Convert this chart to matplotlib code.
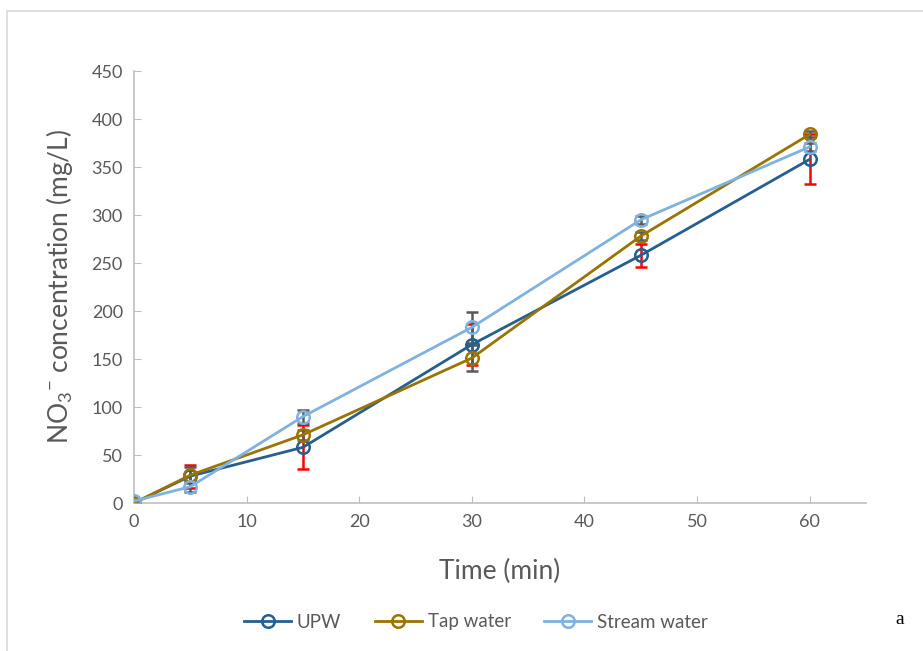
import numpy as np
import matplotlib.pyplot as plt
from matplotlib.patches import Rectangle

time = [0, 5, 15, 30, 45, 60]

upw = [0, 28, 58, 165, 258, 358]
tap = [0, 29, 71, 151, 278, 384]
stream = [2, 17, 90, 183, 295, 371]

upw_err = [0, 12, 23, 21, 12, 26]
tap_err = [1, 8, 5, 14, 4, 3]
stream_err = [1, 6, 7, 16, 4, 4]

labels = ['UPW', 'Tap water', 'Stream water']
colors = ['#255e91', '#9a7400', '#7fb2e0']
err_colors = ['#ff0000', '#595959', '#595959']

plt.rcParams['font.family'] = ['Lato', 'DejaVu Sans']
plt.rcParams['mathtext.fontset'] = 'custom'
plt.rcParams['mathtext.rm'] = 'Lato'

fig = plt.figure(figsize=(9.23, 6.51), dpi=100)
fig.patches.append(Rectangle((7 / 923, -0.1), 1.2, (651 - 11) / 651 + 0.1,
                             transform=fig.transFigure, fill=False,
                             edgecolor='#d9d9d9', linewidth=1.2))
ax = fig.add_axes([134 / 923, 1 - 503 / 651, (866 - 134) / 923, (503 - 71) / 651])

series = [upw, tap, stream]
errs = [upw_err, tap_err, stream_err]
handles = []
for y, e, c, ec, lab in zip(series, errs, colors, err_colors, labels):
    ax.errorbar(time, y, yerr=e, fmt='none', ecolor=ec, elinewidth=1.8,
                capsize=4.5, capthick=1.8, zorder=2)
    h, = ax.plot(time, y, color=c, lw=2, marker='o', markersize=9,
                 markerfacecolor='none', markeredgewidth=1.8, label=lab, zorder=3)
    handles.append(h)

ax.set_xlim(0, 65)
ax.set_ylim(0, 450)
ax.set_xticks(range(0, 61, 10))
ax.set_yticks(range(0, 451, 50))
for s in ['top', 'right']:
    ax.spines[s].set_visible(False)
for s in ['left', 'bottom']:
    ax.spines[s].set_color('#bfbfbf')
    ax.spines[s].set_linewidth(1.2)
ax.tick_params(direction='in', length=5, color='#bfbfbf', labelcolor='#595959',
               labelsize=13, pad=8)

ax.set_xlabel('Time (min)', fontsize=19, color='#595959', labelpad=21)
ax.set_ylabel(r'NO$_3$$^{-}$ concentration (mg/L)', fontsize=19, color='#595959', labelpad=12)

fig.legend(handles=handles, loc='center', bbox_to_anchor=(476 / 923, 1 - 622 / 651),
           ncol=3, frameon=False, fontsize=13.5, labelcolor='#595959',
           handlelength=2.5, columnspacing=1.8, handletextpad=0.3)
fig.text(900 / 923, 1 - 620 / 651, 'a', family='Liberation Serif', fontsize=14,
         ha='center', va='center')

fig.savefig('out.png', dpi=100)
